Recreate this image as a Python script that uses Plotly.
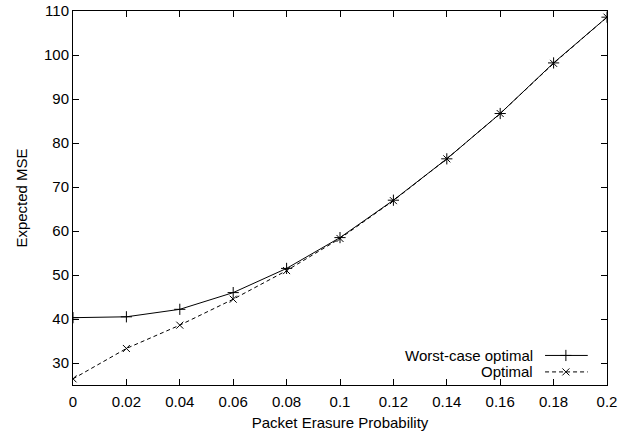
import plotly.graph_objects as go

x_vals = [0, 0.02, 0.04, 0.06, 0.08, 0.1, 0.12, 0.14, 0.16, 0.18, 0.2]
worst_case = [40.3, 40.5, 42.2, 46.0, 51.5, 58.5, 67.0, 76.4, 86.7, 98.2, 108.6]
optimal = [26.4, 33.3, 38.6, 44.5, 51.0, 58.3, 66.9, 76.4, 86.7, 98.1, 108.6]
series_names = ["Worst-case optimal", "Optimal"]
x_ticks = [0, 0.02, 0.04, 0.06, 0.08, 0.1, 0.12, 0.14, 0.16, 0.18, 0.2]
x_tick_text = ["0", "0.02", "0.04", "0.06", "0.08", "0.1", "0.12", "0.14", "0.16", "0.18", "0.2"]
y_ticks = [30, 40, 50, 60, 70, 80, 90, 100, 110]

FONT = "Liberation Sans, Arial, Helvetica, sans-serif"
PLUS = dict(symbol="cross-thin", size=8, line=dict(color="black", width=1))
CROSS = dict(symbol="x-thin", size=7, line=dict(color="black", width=1))

fig = go.Figure()
fig.add_trace(go.Scatter(
    x=x_vals, y=worst_case, mode="lines+markers", name=series_names[0],
    line=dict(color="black", width=1), marker=PLUS, showlegend=False))
fig.add_trace(go.Scatter(
    x=x_vals, y=optimal, mode="lines+markers", name=series_names[1],
    line=dict(color="black", width=1, dash="4px,3px"), marker=CROSS,
    showlegend=False))

# custom legend (text on the left, sample on the right, like gnuplot)
leg_x0, leg_x1, leg_xm = 0.884, 0.964, 0.923
leg_rows = [0.079, 0.035]
fig.add_trace(go.Scatter(
    x=[leg_x0, leg_x1], y=[leg_rows[0]] * 2, xaxis="x2", yaxis="y2",
    mode="lines", line=dict(color="black", width=1),
    showlegend=False, hoverinfo="skip"))
fig.add_trace(go.Scatter(
    x=[leg_xm], y=[leg_rows[0]], xaxis="x2", yaxis="y2", mode="markers",
    marker=PLUS, showlegend=False, hoverinfo="skip"))
fig.add_trace(go.Scatter(
    x=[leg_x0, leg_x1], y=[leg_rows[1]] * 2, xaxis="x2", yaxis="y2",
    mode="lines", line=dict(color="black", width=1, dash="4px,3px"),
    showlegend=False, hoverinfo="skip"))
fig.add_trace(go.Scatter(
    x=[leg_xm], y=[leg_rows[1]], xaxis="x2", yaxis="y2", mode="markers",
    marker=CROSS, showlegend=False, hoverinfo="skip"))

for name, row in zip(series_names, leg_rows):
    fig.add_annotation(x=0.865, y=row, xref="paper", yref="paper", text=name,
                       showarrow=False, xanchor="right", yanchor="middle",
                       font=dict(family=FONT, size=15, color="black"))

axis_common = dict(
    showline=True, linecolor="black", linewidth=1, mirror="allticks",
    ticks="inside", ticklen=6, tickcolor="black", tickwidth=1,
    showgrid=False, zeroline=False, automargin=False,
    tickfont=dict(family=FONT, size=15, color="black"),
)
fig.update_layout(
    width=632, height=435,
    margin=dict(l=73, r=25, t=11, b=50),
    paper_bgcolor="white", plot_bgcolor="white",
    xaxis=dict(range=[0, 0.2], tickvals=x_ticks, ticktext=x_tick_text,
               ticklabelstandoff=3,
               title=dict(text="Packet Erasure Probability", standoff=8,
                          font=dict(family=FONT, size=15, color="black")),
               **axis_common),
    yaxis=dict(range=[25, 110], tickvals=y_ticks,
               title=dict(text="Expected MSE", standoff=12,
                          font=dict(family=FONT, size=15, color="black")),
               **axis_common),
    xaxis2=dict(range=[0, 1], overlaying="x", visible=False),
    yaxis2=dict(range=[0, 1], overlaying="y", visible=False),
    showlegend=False,
)

fig.write_html("out.html")
